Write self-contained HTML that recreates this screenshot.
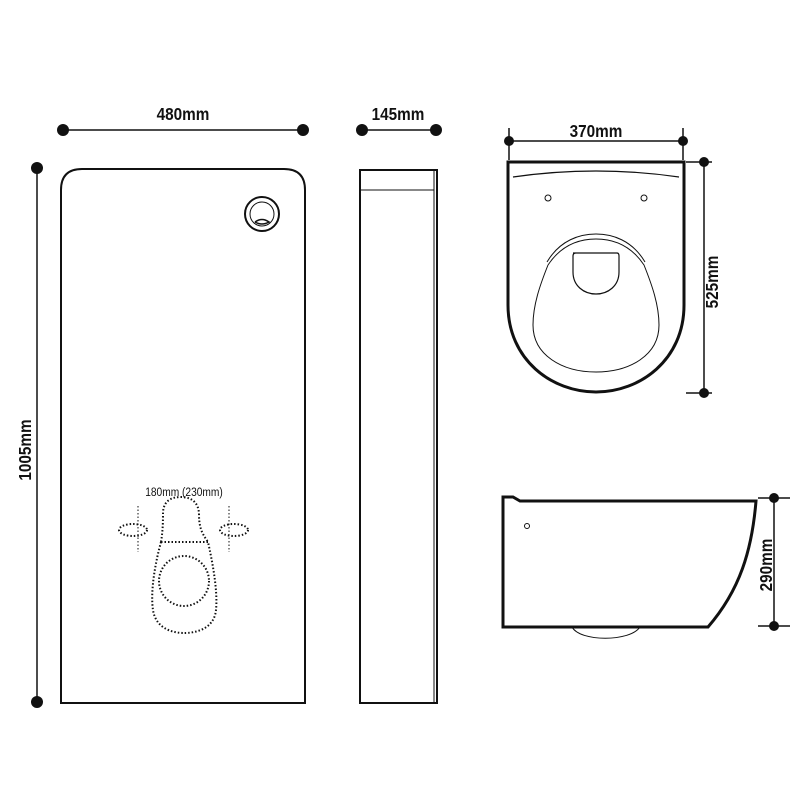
<!DOCTYPE html>
<html><head><style>
html,body{margin:0;padding:0;background:#fff;}
svg{display:block}
.t{font-family:"Liberation Sans Narrow","Liberation Sans",sans-serif;font-weight:bold;font-size:18px;fill:#111}
</style></head><body>
<svg width="800" height="800" viewBox="0 0 800 800" xmlns="http://www.w3.org/2000/svg">
<g stroke="#111" fill="none">
<line x1="63" y1="130" x2="303" y2="130" stroke-width="1.5"/>
<line x1="362" y1="130" x2="436" y2="130" stroke-width="1.5"/>
<line x1="37" y1="168" x2="37" y2="702" stroke-width="1.5"/>
<path d="M61,703 V190 Q61,169 82,169 H284 Q305,169 305,190 V703 Z" stroke-width="2"/>
<circle cx="262" cy="214" r="17" stroke-width="2"/>
<circle cx="262" cy="214" r="12" stroke-width="1"/>
<path d="M255,222 Q262,217 269,222 Q262,226 255,222" stroke-width="1.5"/>
<rect x="360" y="170" width="77" height="533" stroke-width="2"/>
<line x1="434" y1="170" x2="434" y2="703" stroke-width="1"/>
<line x1="360" y1="190" x2="434" y2="190" stroke-width="1"/>
<g stroke-dasharray="1.5 2" stroke-width="2">
<path d="M161,542 C163,530 163,520 163,512 C164,500 172,497 181,497 C192,497 199,503 199,515 C199,530 204,536 208,542"/>
<path d="M161,542 H208"/>
<path d="M161,542 C156,560 150,590 153,610 C156,630 175,633 184,633 C194,633 214,630 216,610 C218,590 212,560 208,542"/>
<circle cx="184" cy="581" r="25"/>
<ellipse cx="133" cy="530" rx="14" ry="6"/>
<ellipse cx="234" cy="530" rx="14" ry="6"/>
<line x1="138" y1="506" x2="138" y2="552" stroke-width="1"/>
<line x1="229" y1="506" x2="229" y2="552" stroke-width="1"/>
</g>
<line x1="509" y1="128" x2="509" y2="160" stroke-width="1.5"/>
<line x1="683" y1="128" x2="683" y2="160" stroke-width="1.5"/>
<line x1="509" y1="141" x2="683" y2="141" stroke-width="1.5"/>
<path d="M508,162 H684 V305 C684,360 640,392 596,392 C552,392 508,360 508,305 Z" stroke-width="3"/>
<path d="M513,177 Q596,165 679,177" stroke-width="1.2"/>
<circle cx="548" cy="198" r="3" stroke-width="1"/>
<circle cx="644" cy="198" r="3" stroke-width="1"/>
<path d="M547,262 C560,240 580,234 596,234 C612,234 632,240 645,262" stroke-width="1"/>
<path d="M548,265 C540,285 533,305 533,325 C533,355 562,372 596,372 C630,372 659,355 659,325 C659,305 652,285 644,265 C630,244 612,239 596,239 C580,239 562,244 548,265" stroke-width="1"/>
<path d="M573,253 H617 Q619,253 619,256 V272 C619,286 608,294 596,294 C584,294 573,286 573,272 V256 Q573,253 576,253" stroke-width="1.2"/>
<line x1="686" y1="162" x2="712" y2="162" stroke-width="1.5"/>
<line x1="686" y1="393" x2="712" y2="393" stroke-width="1.5"/>
<line x1="704" y1="162" x2="704" y2="393" stroke-width="1.5"/>
<path d="M503,627 V497 H513 L520,501 H756 C752,550 740,590 708,627 Z" stroke-width="3"/>
<circle cx="527" cy="526" r="2.5" stroke-width="1"/>
<path d="M572,627 C580,642 630,642 640,627" stroke-width="1"/>
<line x1="758" y1="498" x2="790" y2="498" stroke-width="1.5"/>
<line x1="758" y1="626" x2="790" y2="626" stroke-width="1.5"/>
<line x1="774" y1="498" x2="774" y2="626" stroke-width="1.5"/>
</g>
<g fill="#111">
<circle cx="63" cy="130" r="6"/><circle cx="303" cy="130" r="6"/>
<circle cx="362" cy="130" r="6"/><circle cx="436" cy="130" r="6"/>
<circle cx="37" cy="168" r="6"/><circle cx="37" cy="702" r="6"/>
<circle cx="509" cy="141" r="5"/><circle cx="683" cy="141" r="5"/>
<circle cx="704" cy="162" r="5"/><circle cx="704" cy="393" r="5"/>
<circle cx="774" cy="498" r="5"/><circle cx="774" cy="626" r="5"/>
</g>
<g class="t" text-anchor="middle">
<text transform="translate(183,120) scale(0.85,1)">480mm</text>
<text transform="translate(398,120) scale(0.85,1)">145mm</text>
<text transform="translate(596,137) scale(0.85,1)">370mm</text>
<text transform="translate(31,450) rotate(-90) scale(0.85,1)">1005mm</text>
<text transform="translate(718,282) rotate(-90) scale(0.85,1)">525mm</text>
<text transform="translate(772,565) rotate(-90) scale(0.85,1)">290mm</text>
</g>
<text transform="translate(184,496) scale(0.85,1)" text-anchor="middle" font-family="Liberation Sans,sans-serif" font-size="12" fill="#111">180mm (230mm)</text>
</svg>
</body></html>
